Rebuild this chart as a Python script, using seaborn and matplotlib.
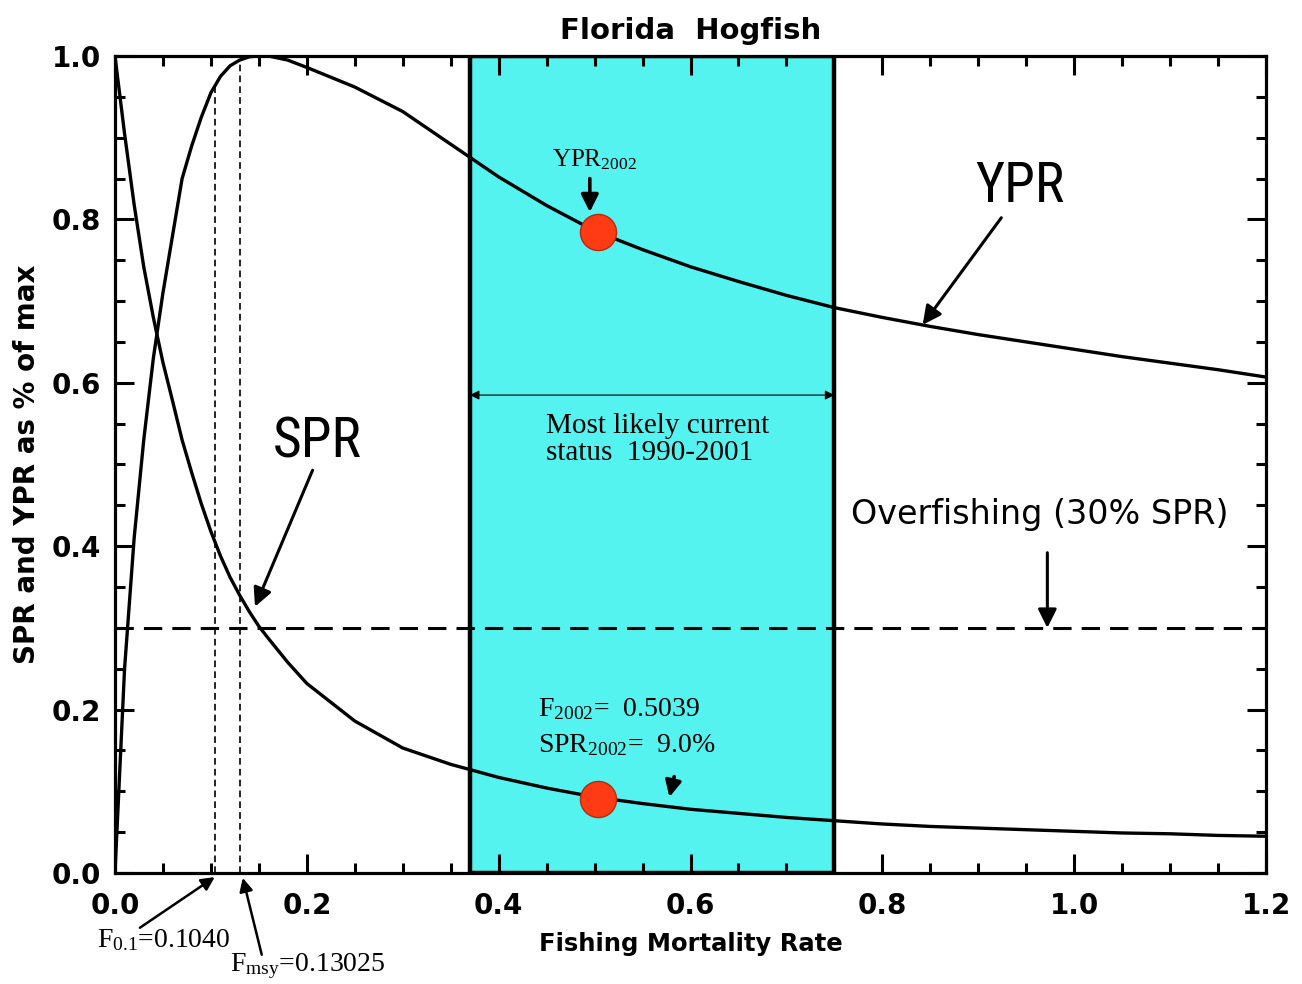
import numpy as np
import pandas as pd
import matplotlib
matplotlib.use("Agg")
import matplotlib.pyplot as plt
from matplotlib import font_manager
from matplotlib.ticker import MultipleLocator
import seaborn as sns

# Fishing mortality grid and relative per-recruit curves
fishing_mortality = [0.00, 0.01, 0.02, 0.03, 0.04, 0.05, 0.06, 0.07, 0.08, 0.09,
                     0.10, 0.11, 0.12, 0.13, 0.14, 0.15, 0.16, 0.18, 0.20, 0.25,
                     0.30, 0.35, 0.40, 0.45, 0.50, 0.55, 0.60, 0.65, 0.70, 0.75,
                     0.80, 0.85, 0.90, 0.95, 1.00, 1.05, 1.10, 1.15, 1.20]
ypr_rel = [0.000, 0.250, 0.410, 0.530, 0.630, 0.710, 0.780, 0.850, 0.890, 0.925,
           0.955, 0.975, 0.988, 0.995, 0.999, 1.000, 1.000, 0.995, 0.986, 0.962,
           0.932, 0.892, 0.852, 0.817, 0.786, 0.763, 0.742, 0.724, 0.707, 0.692,
           0.680, 0.669, 0.659, 0.650, 0.641, 0.632, 0.624, 0.616, 0.607]
spr_rel = [1.000, 0.905, 0.818, 0.742, 0.680, 0.625, 0.578, 0.530, 0.490, 0.452,
           0.418, 0.388, 0.362, 0.340, 0.320, 0.302, 0.287, 0.258, 0.232, 0.186,
           0.153, 0.133, 0.117, 0.104, 0.093, 0.085, 0.078, 0.073, 0.068, 0.064,
           0.060, 0.057, 0.055, 0.053, 0.051, 0.049, 0.048, 0.046, 0.045]

# Reference points
f_01 = 0.1040
f_msy = 0.13025
f_2002 = 0.5039
spr_2002 = 0.090
ypr_2002 = 0.785
overfishing_spr = 0.30
status_range = [0.37, 0.75]

x_ticks = [0.0, 0.2, 0.4, 0.6, 0.8, 1.0, 1.2]
y_ticks = [0.0, 0.2, 0.4, 0.6, 0.8, 1.0]

sns.set_style("ticks")
plt.rcParams.update({
    "font.family": ["DejaVu Sans"],
    "mathtext.fontset": "custom",
    "mathtext.rm": "Liberation Serif",
    "mathtext.it": "Liberation Serif:italic",
    "axes.linewidth": 2.3,
    "text.color": "black",
    "axes.labelcolor": "black",
    "axes.edgecolor": "black",
    "xtick.color": "black",
    "ytick.color": "black",
})

# Pick a condensed sans face for the large curve labels if one is available
installed = {f.name for f in font_manager.fontManager.ttflist}
condensed_family = "DejaVu Sans"
condensed_stretch = "condensed"
for cand in ("Liberation Sans Narrow", "Roboto Condensed", "Open Sans Condensed"):
    if cand in installed:
        condensed_family = cand
        condensed_stretch = "normal"
        break

df = pd.DataFrame({
    "F": fishing_mortality * 2,
    "value": ypr_rel + spr_rel,
    "curve": ["YPR"] * len(ypr_rel) + ["SPR"] * len(spr_rel),
})

fig = plt.figure(figsize=(13.02, 9.84), dpi=100)
ax = fig.add_axes([0.0883, 0.1128, 0.8841, 0.8303])

# Most likely current status band
ax.axvspan(status_range[0], status_range[1], facecolor="#55F3F0",
           edgecolor="black", linewidth=3.2, zorder=0)

sns.lineplot(data=df, x="F", y="value", hue="curve",
             palette={"YPR": "black", "SPR": "black"},
             linewidth=2.4, legend=False, ax=ax, zorder=3)

# 30% SPR overfishing threshold
ax.axhline(overfishing_spr, color="black", lw=2.2, ls=(0, (6, 3.3)), zorder=2)

# F0.1 and Fmsy reference lines up to the yield curve
for fv in (f_01, f_msy):
    ax.vlines(fv, 0, np.interp(fv, fishing_mortality, ypr_rel), color="black",
              lw=1.2, ls=(0, (4, 2.5)), zorder=2)

# 2002 status points
ax.plot([f_2002], [ypr_2002], "o", ms=26, color="#FF3B14", mec="#B52A10", mew=1, zorder=5)
ax.plot([f_2002], [spr_2002], "o", ms=26, color="#FF3B14", mec="#B52A10", mew=1, zorder=5)

ax.set_xlim(0, 1.2)
ax.set_ylim(0, 1.0)
ax.xaxis.set_minor_locator(MultipleLocator(0.05))
ax.yaxis.set_minor_locator(MultipleLocator(0.05))
ax.set_xticks(x_ticks)
ax.set_yticks(y_ticks)
ax.set_xticklabels([f"{v:.1f}" for v in x_ticks], fontsize=20, fontweight="bold")
ax.set_yticklabels([f"{v:.1f}" for v in y_ticks], fontsize=20, fontweight="bold")
ax.tick_params(which="both", direction="in", top=True, right=True, width=2.2, color="black")
ax.tick_params(which="major", length=14)
ax.tick_params(which="minor", length=7)
ax.tick_params(axis="x", which="major", pad=14)
ax.tick_params(axis="y", which="major", pad=10)
for s in ax.spines.values():
    s.set_linewidth(2.3)
    s.set_color("black")
    s.set_zorder(6)

ax.set_title("Florida  Hogfish", fontsize=21, fontweight="bold", pad=12)
ax.set_xlabel("Fishing Mortality Rate", fontsize=17.5, fontweight="bold", labelpad=8)
ax.set_ylabel("SPR and YPR as % of max", fontsize=20, fontweight="bold", labelpad=8)

serif = ["Liberation Serif", "DejaVu Serif"]
arrow_kw = dict(arrowstyle="-|>", color="black", lw=2.2, mutation_scale=28, shrinkA=0, shrinkB=0)

# Curve labels
ax.text(0.211, 0.528, "SPR", fontsize=40, family=condensed_family,
        fontstretch=condensed_stretch, ha="center", va="center")
ax.annotate("", xy=(0.146, 0.326), xytext=(0.206, 0.493), arrowprops=arrow_kw)
ax.text(0.943, 0.840, "YPR", fontsize=40, family=condensed_family,
        fontstretch=condensed_stretch, ha="center", va="center")
ax.annotate("", xy=(0.842, 0.671), xytext=(0.924, 0.802), arrowprops=arrow_kw)

# Overfishing label
ax.text(0.964, 0.439, "Overfishing (30% SPR)", fontsize=24, ha="center", va="center")
ax.annotate("", xy=(0.972, overfishing_spr), xytext=(0.972, 0.392), arrowprops=arrow_kw)

# Status band arrow and caption
ax.annotate("", xy=(status_range[0], 0.585), xytext=(status_range[1], 0.585),
            arrowprops=dict(arrowstyle="<|-|>", color="black", lw=0.8,
                            mutation_scale=14, shrinkA=0, shrinkB=0))
ax.text(0.449, 0.530, "Most likely current\nstatus  1990-2001", fontsize=21,
        family=serif, ha="left", va="center", linespacing=1.05)

# 2002 annotations
ax.text(0.456, 0.873, r"YPR$_{\mathrm{2002}}$", fontsize=18, family=serif, ha="left", va="center")
ax.annotate("", xy=(0.495, 0.809), xytext=(0.495, 0.850),
            arrowprops=dict(arrowstyle="-|>", color="black", lw=2.6, mutation_scale=26,
                            shrinkA=0, shrinkB=0))
ax.text(0.441, 0.200, r"F$_{\mathrm{2002}}$=  0.5039", fontsize=20, family=serif, ha="left", va="center")
ax.text(0.441, 0.157, r"SPR$_{\mathrm{2002}}$=  9.0%", fontsize=20, family=serif, ha="left", va="center")
ax.annotate("", xy=(0.578, 0.093), xytext=(0.583, 0.118),
            arrowprops=dict(arrowstyle="-|>", color="black", lw=2.6, mutation_scale=24,
                            shrinkA=0, shrinkB=0))

# Reference point labels below the axis
ax.text(-0.019, -0.082, r"F$_{\mathrm{0.1}}$=0.1040", fontsize=20, family=serif,
        ha="left", va="center", clip_on=False)
ax.annotate("", xy=(f_01, -0.005), xytext=(0.026, -0.067),
            arrowprops=dict(arrowstyle="-|>", color="black", lw=1.8, mutation_scale=20,
                            shrinkA=0, shrinkB=0), annotation_clip=False)
ax.text(0.120, -0.114, r"F$_{\mathrm{msy}}$=0.13025", fontsize=20, family=serif,
        ha="left", va="center", clip_on=False)
ax.annotate("", xy=(f_msy + 0.003, -0.006), xytext=(0.153, -0.100),
            arrowprops=dict(arrowstyle="-|>", color="black", lw=1.8, mutation_scale=20,
                            shrinkA=0, shrinkB=0), annotation_clip=False)

fig.savefig("out.png", dpi=100)
